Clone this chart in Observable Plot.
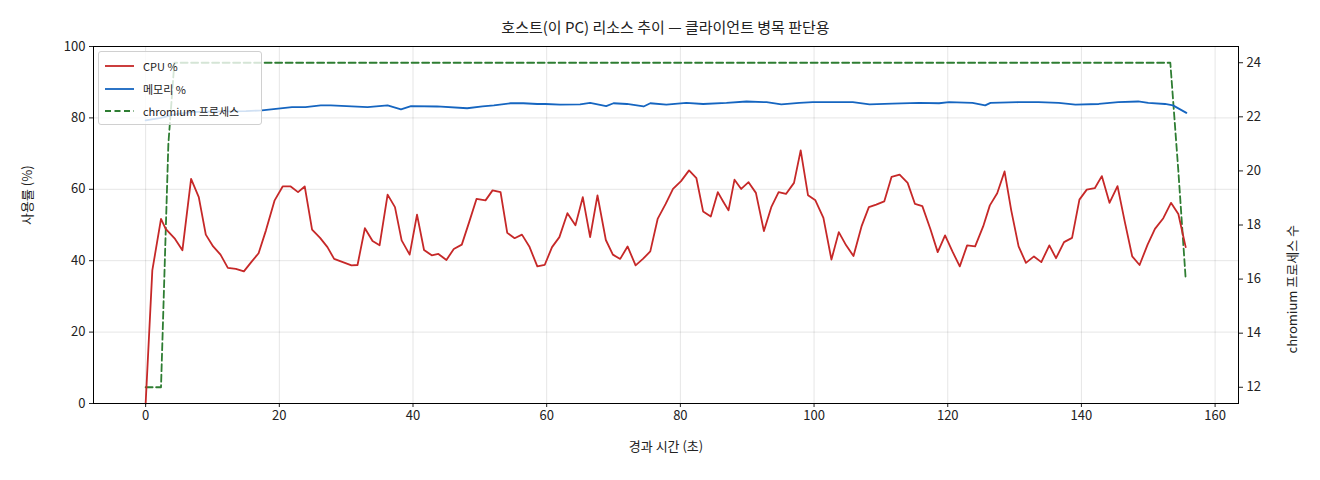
<!DOCTYPE html>
<html>
<head>
<meta charset="utf-8">
<script src="https://cdn.jsdelivr.net/npm/d3@7"></script>
<script src="https://cdn.jsdelivr.net/npm/@observablehq/plot@0.6"></script>
<style>
  html, body { margin: 0; padding: 0; background: #fff; }
  #wrap { position: relative; width: 1320px; height: 480px; font-family: "Noto Sans CJK KR", "Noto Sans", sans-serif; color: #222; }
  #title { position: absolute; left: 93px; width: 1145px; top: 16px; text-align: center; font-size: 15px; line-height: 22px; }
  #chart { position: absolute; left: 0; top: 40px; }
  #chart svg { overflow: visible; }
  #legend { position: absolute; left: 98px; top: 51px; width: 164px; height: 74px; box-sizing: border-box;
            background: rgba(255,255,255,0.8); border: 1px solid #d0d0d0; border-radius: 3px; font-size: 11px; }
  .item { position: absolute; left: 6px; height: 14px; display: flex; align-items: center; }
  .item svg { margin-right: 9px; }
</style>
</head>
<body>
<div id="wrap">
  <div id="title">호스트(이 PC) 리소스 추이 — 클라이언트 병목 판단용</div>
  <div id="chart"></div>
  <div id="legend"></div>
</div>
<script>
// ---- data ----
const cpuT = [0, 1.0, 2.3, 3.0, 4.4, 5.5, 6.8, 7.95, 9.0, 10.1, 11.2, 12.3, 13.5, 14.7, 15.8, 16.9, 18.0, 19.3, 20.5, 21.7,
  22.8, 23.8, 24.9, 26.1, 27.2, 28.2, 29.5, 30.8, 31.7, 32.8, 33.95, 35.0, 36.2, 37.3, 38.3, 39.5, 40.6, 41.65, 42.8, 43.8,
  45.0, 46.1, 47.3, 48.4, 49.5, 50.85, 51.9, 53.1, 54.1, 55.2, 56.3, 57.4, 58.6, 59.7, 60.8, 61.9, 63.1, 64.3, 65.4, 66.5,
  67.6, 68.85, 69.9, 71.0, 72.1, 73.3, 74.4, 75.5, 76.6, 77.8, 78.9, 80.1, 81.3, 82.4, 83.4, 84.55, 85.6, 86.4, 87.2, 88.1,
  89.1, 90.2, 91.3, 92.5, 93.6, 94.7, 95.8, 97.0, 98.0, 99.1, 100.2, 101.4, 102.6, 103.7, 104.8, 105.9, 107.1, 108.2, 109.3, 110.5,
  111.6, 112.8, 114.0, 115.1, 116.2, 117.4, 118.5, 119.6, 120.7, 121.8, 122.9, 124.1, 125.3, 126.3, 127.4, 128.5, 129.5, 130.6, 131.7, 132.9,
  134.0, 135.2, 136.2, 137.4, 138.6, 139.7, 140.8, 142.0, 143.05, 144.2, 145.4, 146.5, 147.6, 148.7, 149.9, 151.0, 152.25, 153.4, 154.5, 155.6];
const cpu = [0, 37.3, 51.7, 48.9, 46.1, 42.9, 62.9, 57.8, 47.3, 44.0, 41.7, 38.0, 37.7, 37.0, 39.6, 42.1, 48.5, 56.9, 60.8, 60.8,
  59.2, 60.8, 48.7, 46.4, 43.8, 40.5, 39.6, 38.7, 38.8, 49.1, 45.5, 44.3, 58.5, 55.0, 45.7, 41.7, 52.9, 43.0, 41.5, 41.9,
  40.2, 43.3, 44.5, 50.8, 57.3, 56.9, 59.7, 59.2, 47.8, 46.3, 47.3, 44.0, 38.4, 38.8, 43.8, 46.6, 53.3, 49.9, 57.8, 46.6,
  58.3, 45.8, 41.7, 40.5, 44.0, 38.7, 40.5, 42.6, 51.7, 55.9, 60.1, 62.3, 65.3, 63.1, 53.8, 52.4, 59.2, 56.6, 54.1, 62.7,
  60.1, 62.0, 59.0, 48.3, 55.0, 59.2, 58.7, 61.8, 70.9, 58.3, 56.9, 52.0, 40.3, 48.0, 44.3, 41.3, 49.6, 55.0, 55.7, 56.6,
  63.5, 64.1, 61.8, 55.9, 55.3, 48.9, 42.4, 47.1, 42.6, 38.4, 44.3, 44.0, 49.6, 55.5, 58.9, 65.0, 54.1, 44.0, 39.4, 41.2,
  39.6, 44.3, 40.7, 45.2, 46.4, 57.1, 59.9, 60.3, 63.7, 56.2, 60.9, 50.8, 41.2, 38.8, 44.5, 48.9, 51.9, 56.2, 53.1, 43.8];

const memT = [0, 2.3, 4.4, 6.8, 10.1, 15.0, 17.4, 21.9, 23.9, 26.2, 27.7, 33.2, 36.2, 38.2, 39.7, 43.6, 48.1, 50.4, 52.1, 54.6,
  56.5, 58.6, 59.8, 62.0, 65.0, 66.5, 68.9, 70.0, 72.0, 74.5, 75.5, 77.9, 80.9, 83.4, 86.9, 89.9, 92.9, 95.1, 97.8, 99.8,
  105.8, 108.3, 111.7, 115.7, 118.7, 120.2, 123.7, 125.6, 126.4, 130.6, 133.6, 136.6, 139.1, 142.6, 145.5, 148.5, 150.0, 152.5, 153.7, 155.7];
const mem = [79.3, 80.0, 81.0, 81.6, 81.8, 81.9, 82.1, 83.0, 83.0, 83.5, 83.5, 83.0, 83.5, 82.4, 83.3, 83.2, 82.7, 83.2, 83.5, 84.1,
  84.1, 83.9, 83.9, 83.7, 83.8, 84.2, 83.3, 84.1, 83.9, 83.2, 84.1, 83.7, 84.2, 83.9, 84.2, 84.6, 84.4, 83.8, 84.2, 84.4,
  84.4, 83.8, 84.0, 84.2, 84.1, 84.4, 84.2, 83.5, 84.2, 84.4, 84.4, 84.2, 83.7, 83.9, 84.4, 84.6, 84.2, 83.9, 83.5, 81.4];

const procT = [0, 2.3, 3.4, 4.3, 153.3, 154.5, 155.6];
const proc = [12, 12, 21, 24, 24, 20, 16];

const xTicks = [0, 20, 40, 60, 80, 100, 120, 140, 160];
const yTicks = [0, 20, 40, 60, 80, 100];
const procTicks = [12, 14, 16, 18, 20, 22, 24];

const seriesNames = ["CPU %", "메모리 %", "chromium 프로세스"];
const seriesColors = ["#c62828", "#1565c0", "#2e7d32"];

// right-axis domain (process count) mapped onto the left percent scale
const procDomain = [11.4, 24.6];
const toLeft = v => (v - procDomain[0]) / (procDomain[1] - procDomain[0]) * 100;
const fromLeft = p => procDomain[0] + p / 100 * (procDomain[1] - procDomain[0]);

const rows = (ts, vs) => ts.map((t, i) => ({t, v: vs[i]}));

const chart = Plot.plot({
  width: 1320,
  height: 440,
  marginTop: 6,
  marginBottom: 77,
  marginLeft: 93,
  marginRight: 82,
  x: {domain: [-7.8, 163.5]},
  y: {domain: [0, 100]},
  style: {fontFamily: "'Noto Sans CJK KR', 'Noto Sans', sans-serif", fontSize: "13px", color: "#222", background: "#fff", overflow: "visible"},
  marks: [
    Plot.gridX(xTicks, {stroke: "#000", strokeOpacity: 0.1}),
    Plot.gridY(yTicks, {stroke: "#000", strokeOpacity: 0.1}),
    Plot.line(rows(procT, proc), {x: "t", y: d => toLeft(d.v), stroke: seriesColors[2], strokeWidth: 1.8, strokeDasharray: "7,3.5"}),
    Plot.line(rows(memT, mem), {x: "t", y: "v", stroke: seriesColors[1], strokeWidth: 1.8}),
    Plot.line(rows(cpuT, cpu), {x: "t", y: "v", stroke: seriesColors[0], strokeWidth: 1.8}),
    Plot.axisX(xTicks, {tickSize: 4, tickPadding: 3, label: null, fontSize: 13}),
    Plot.axisY(yTicks, {anchor: "left", tickSize: 4, tickPadding: 4, label: null, fontSize: 13}),
    Plot.axisY(procTicks.map(toLeft), {anchor: "right", tickSize: 4, tickPadding: 4, label: null, fontSize: 13,
      tickFormat: d => String(Math.round(fromLeft(d)))}),
    Plot.frame({stroke: "#000", strokeWidth: 1}),
    Plot.text(["경과 시간 (초)"], {frameAnchor: "bottom", dy: 47, fontSize: 13}),
    Plot.text(["사용률 (%)"], {frameAnchor: "left", dx: -66, rotate: -90, fontSize: 13}),
    Plot.text(["chromium 프로세스 수"], {frameAnchor: "right", dx: 54, rotate: -90, fontSize: 13})
  ]
});
chart.style.overflow = "visible";
document.getElementById("chart").appendChild(chart);

// legend
const legend = document.getElementById("legend");
const ys = [7, 30, 52];
seriesNames.forEach((name, i) => {
  const it = document.createElement("div");
  it.className = "item";
  it.style.top = ys[i] + "px";
  const dash = i === 2 ? 'stroke-dasharray="6,3.5"' : "";
  it.innerHTML = `<svg width="29" height="4"><line x1="0" y1="2" x2="29" y2="2" stroke="${seriesColors[i]}" stroke-width="1.8" ${dash}/></svg><span>${name}</span>`;
  legend.appendChild(it);
});
</script>
</body>
</html>
